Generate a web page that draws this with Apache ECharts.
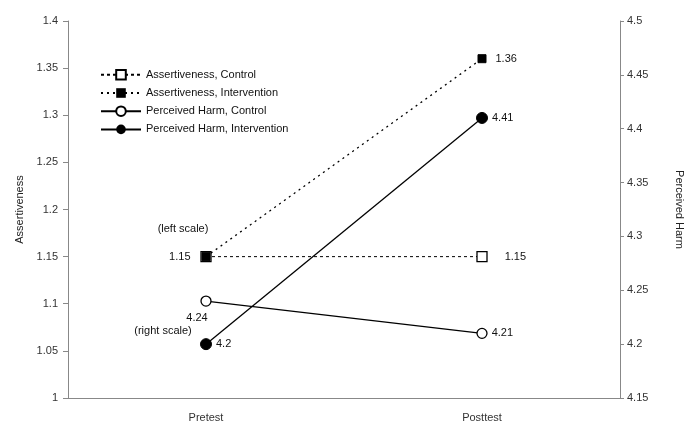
<!DOCTYPE html>
<html><head><meta charset="utf-8">
<script src="https://cdn.jsdelivr.net/npm/echarts@6/dist/echarts.min.js"></script>
<style>html,body{margin:0;padding:0;background:#fff}#c{width:697px;height:434px}</style>
</head><body><div id="c"></div>
<script>
const categories = ['Pretest', 'Posttest'];
const assertControl = [1.15, 1.15];
const assertIntervention = [1.15, 1.36];
const harmControl = [4.24, 4.21];
const harmIntervention = [4.2, 4.41];
const leftAxis = {name: 'Assertiveness', min: 1, max: 1.4, interval: 0.05};
const rightAxis = {name: 'Perceived Harm', min: 4.15, max: 4.5, interval: 0.05};
const seriesNames = ['Assertiveness, Control', 'Assertiveness, Intervention', 'Perceived Harm, Control', 'Perceived Harm, Intervention'];

const FONT = 'Liberation Sans';
const chart = echarts.init(document.getElementById('c'));
const lbl = (pos, extra) => Object.assign({show: true, position: pos, color: '#111', fontFamily: FONT, fontSize: 11}, extra || {});

chart.setOption({
  animation: false,
  textStyle: {fontFamily: FONT},
  grid: {left: 68, right: 77, top: 21, bottom: 36},
  legend: {
    orient: 'vertical', left: 95, top: 64, itemWidth: 40, itemHeight: 12, itemGap: 6.9,
    textStyle: {fontFamily: FONT, fontSize: 11, color: '#111'},
    data: seriesNames
  },
  xAxis: {
    type: 'category', data: categories, boundaryGap: true,
    axisLine: {lineStyle: {color: '#888'}},
    axisTick: {lineStyle: {color: '#888'}, length: 4},
    axisLabel: {color: '#333', fontSize: 11, margin: 14, fontFamily: FONT}
  },
  yAxis: [
    {type: 'value', position: 'left', min: leftAxis.min, max: leftAxis.max, interval: leftAxis.interval,
     name: leftAxis.name, nameLocation: 'middle', nameGap: 42,
     nameTextStyle: {color: '#222', fontSize: 11, fontFamily: FONT},
     axisLine: {show: true, lineStyle: {color: '#888'}},
     axisTick: {show: true, length: 5, lineStyle: {color: '#888'}},
     axisLabel: {color: '#333', fontSize: 11, margin: 10, fontFamily: FONT},
     splitLine: {show: false}},
    {type: 'value', position: 'right', min: rightAxis.min, max: rightAxis.max, interval: rightAxis.interval,
     name: rightAxis.name, nameLocation: 'middle', nameGap: 54, nameRotate: -90,
     nameTextStyle: {color: '#222', fontSize: 11, fontFamily: FONT},
     axisLine: {show: true, lineStyle: {color: '#888'}},
     axisTick: {show: true, length: 4, lineStyle: {color: '#888'}},
     axisLabel: {color: '#333', fontSize: 11, margin: 7, fontFamily: FONT},
     splitLine: {show: false}}
  ],
  series: [
    {name: seriesNames[0], type: 'line', yAxisIndex: 0, data: [
       {value: assertControl[0], label: {show: false}},
       {value: assertControl[1], label: lbl('right', {distance: 17})}],
     symbol: 'rect', symbolSize: 10,
     lineStyle: {color: '#000', width: 1, type: [3, 3]},
     itemStyle: {color: '#fff', borderColor: '#000', borderWidth: 1.3},
     z: 2},
    {name: seriesNames[1], type: 'line', yAxisIndex: 0, data: [
       {value: assertIntervention[0], label: lbl('left', {distance: 11})},
       {value: assertIntervention[1], label: lbl('right', {distance: 9})}],
     symbol: 'rect', symbolSize: 8,
     lineStyle: {color: '#000', width: 1.3, type: [2, 4]},
     itemStyle: {color: '#000', borderColor: '#000'},
     z: 3},
    {name: seriesNames[2], type: 'line', yAxisIndex: 1, data: [
       {value: harmControl[0], label: lbl('bottom', {distance: 6, offset: [-9, 0]})},
       {value: harmControl[1], label: lbl('right', {distance: 4})}],
     symbol: 'circle', symbolSize: 10,
     lineStyle: {color: '#000', width: 1.3},
     itemStyle: {color: '#fff', borderColor: '#000', borderWidth: 1.3},
     z: 4},
    {name: seriesNames[3], type: 'line', yAxisIndex: 1, data: harmIntervention,
     symbol: 'circle', symbolSize: 11,
     lineStyle: {color: '#000', width: 1.3},
     itemStyle: {color: '#000', borderColor: '#000'},
     label: lbl('right', {distance: 4}),
     z: 5}
  ]
});

// annotations anchored to data points
const pA = chart.convertToPixel({xAxisIndex: 0, yAxisIndex: 0}, [categories[0], assertIntervention[0]]);
const pH = chart.convertToPixel({xAxisIndex: 0, yAxisIndex: 1}, [categories[0], harmIntervention[0]]);
chart.setOption({
  graphic: [
    {type: 'text', x: pA[0] - 23, y: pA[1] - 28, style: {text: '(left scale)', font: '11px "Liberation Sans"', fill: '#111', textAlign: 'center', textVerticalAlign: 'middle'}},
    {type: 'text', x: pH[0] - 43, y: pH[1] - 13, style: {text: '(right scale)', font: '11px "Liberation Sans"', fill: '#111', textAlign: 'center', textVerticalAlign: 'middle'}}
  ]
});
</script></body></html>
